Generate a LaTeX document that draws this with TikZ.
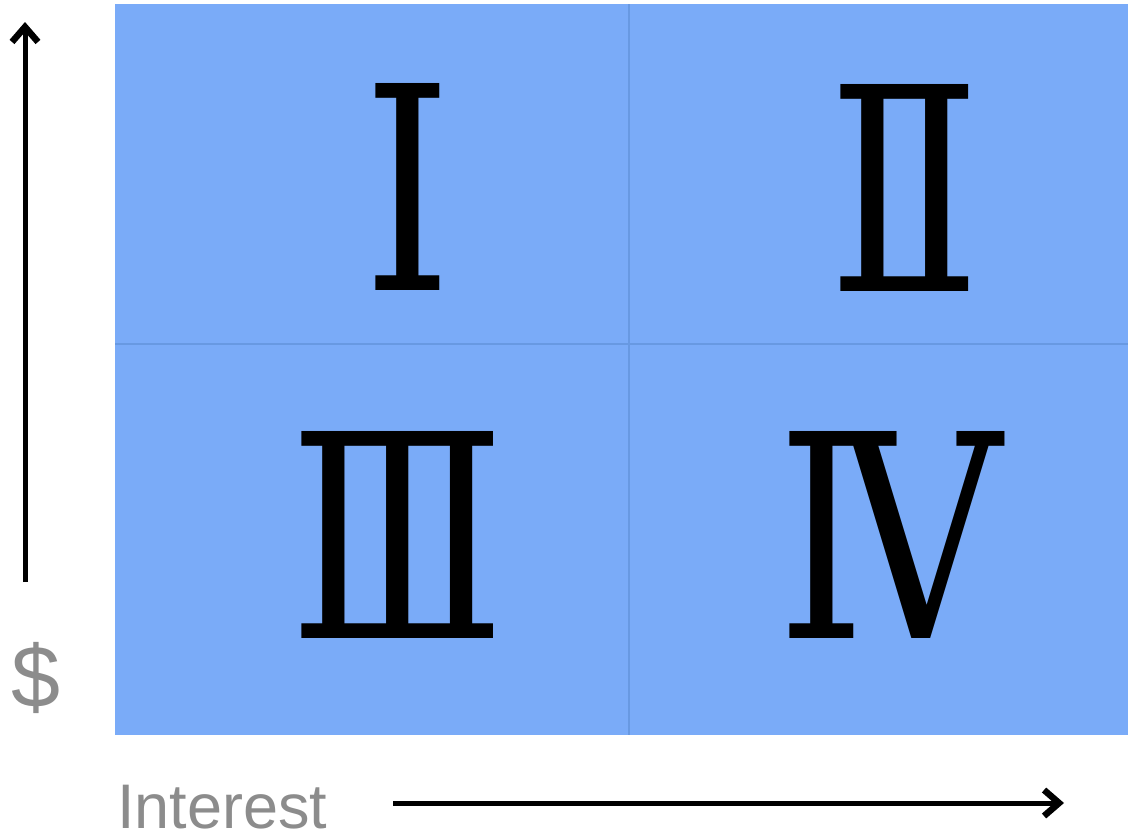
\documentclass[tikz,border=0pt]{standalone}
\usepackage{fontspec}
\setmainfont{Liberation Serif}
\setsansfont{Liberation Sans}
\newfontfamily\numfont{DejaVu Serif}
\usetikzlibrary{arrows.meta,positioning}
\definecolor{quadblue}{RGB}{122,171,248}
\definecolor{quadline}{RGB}{104,153,226}
\definecolor{axisgray}{RGB}{140,140,140}

\begin{document}
\begin{tikzpicture}[x=1pt,y=-1pt,
  numeral/.style={font=\numfont\fontsize{284}{284}\selectfont,inner sep=0pt,xscale=0.79,transform shape},
  axislabel/.style={text=axisgray,inner sep=0pt},
  axis/.style={line width=5pt,-{Straight Barb[length=15pt,width=26pt,line width=6.5pt 0]}}]
  \useasboundingbox (0,0) rectangle (1128,835);
  % quadrants
  \fill[quadblue] (115,4) rectangle (1128,735);
  \draw[quadline,line width=2.5pt] (629,4) -- (629,735);
  \draw[quadline,line width=2.5pt] (115,344) -- (1128,344);
  \node[numeral] (one) at (408,187) {Ⅰ};
  \node[numeral] (two) at (905,188) {Ⅱ};
  \node[numeral] (three) at (398,535) {Ⅲ};
  \node[numeral] (four) at (890,535) {Ⅳ};

  % axes
  \node[axislabel,font=\sffamily\fontsize{88}{88}\selectfont] (dollar) at (36,678) {\$};
  \node[axislabel,font=\sffamily\fontsize{63}{63}\selectfont,anchor=base west] (interest) at (117,828) {Interest};
  \coordinate (ybot) at (25,582);
  \coordinate (ytop) at (25,22);
  \draw[axis] (ybot) -- (ytop);
  \coordinate (xleft) at (393,803);
  \coordinate (xright) at (1064,803);
  \draw[axis] (xleft) -- (xright);
\end{tikzpicture}
\end{document}
